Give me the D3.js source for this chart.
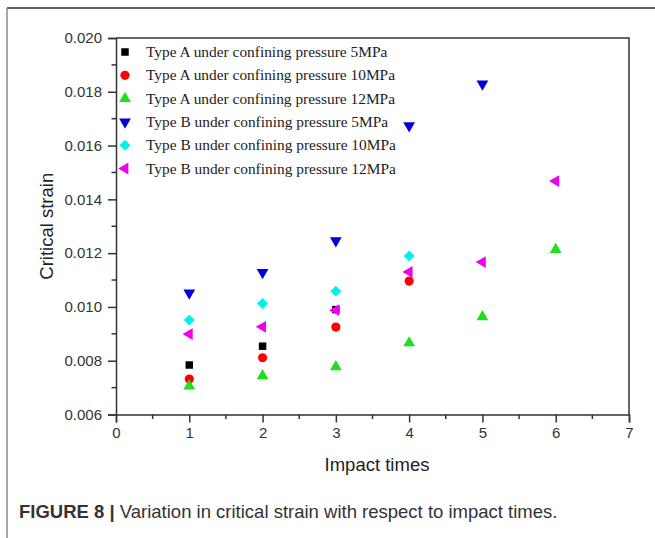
<!DOCTYPE html>
<html>
<head>
<meta charset="utf-8">
<script src="https://cdn.jsdelivr.net/npm/d3@7"></script>
<style>
  html, body { margin: 0; padding: 0; background: #fff; }
  svg { display: block; }
</style>
</head>
<body>
<svg id="chart" width="655" height="538"></svg>
<script>
// ---- data ----
const impactTimes = [1, 2, 3, 4, 5, 6];
const seriesNames = [
  "Type A under confining pressure 5MPa",
  "Type A under confining pressure 10MPa",
  "Type A under confining pressure 12MPa",
  "Type B under confining pressure 5MPa",
  "Type B under confining pressure 10MPa",
  "Type B under confining pressure 12MPa"
];
const typeA5MPa  = [0.00784, 0.00854, 0.00990, null, null, null];
const typeA10MPa = [0.00732, 0.00811, 0.00925, 0.01096, null, null];
const typeA12MPa = [0.00706, 0.00744, 0.00777, 0.00866, 0.00963, 0.01213];
const typeB5MPa  = [0.01052, 0.01128, 0.01246, 0.01674, 0.01829, null];
const typeB10MPa = [0.00951, 0.01013, 0.01058, 0.01189, null, null];
const typeB12MPa = [0.00899, 0.00926, 0.00988, 0.01130, 0.01167, 0.01468];
const xTicks = [0, 1, 2, 3, 4, 5, 6, 7];
const yTicks = [0.006, 0.008, 0.010, 0.012, 0.014, 0.016, 0.018, 0.020];
const xLabel = "Impact times";
const yLabel = "Critical strain";

const seriesValues = [typeA5MPa, typeA10MPa, typeA12MPa, typeB5MPa, typeB10MPa, typeB12MPa];
const colors = ["#000000", "#ff0000", "#1fe01f", "#0000d8", "#00f0f0", "#f000f0"];
// symbol type, size (area), rotation
const shapes = [
  {type: d3.symbolSquare, size: 56, rot: 0},
  {type: d3.symbolCircle, size: 66, rot: 0},
  {type: d3.symbolTriangle, size: 60, rot: 0},
  {type: d3.symbolTriangle, size: 60, rot: 180},
  {type: d3.symbolSquare, size: 60, rot: 45},
  {type: d3.symbolTriangle, size: 60, rot: -90}
];

const svg = d3.select("#chart");
const W = 655, H = 538;
const margin = {left: 116, top: 38, right: 629, bottom: 414.5};

// figure frame
svg.append("line").attr("x1", 7).attr("x2", W).attr("y1", 8).attr("y2", 8)
  .attr("stroke", "#2a2a2a").attr("stroke-width", 1.5);
svg.append("line").attr("x1", 7).attr("x2", 7).attr("y1", 8).attr("y2", H)
  .attr("stroke", "#8a8a8a").attr("stroke-width", 1.5);

const x = d3.scaleLinear().domain([0, 7]).range([margin.left, margin.right]);
const y = d3.scaleLinear().domain([0.006, 0.020]).range([margin.bottom, margin.top]);

const axisColor = "#333";
const tickFont = "'Liberation Sans', Arial, sans-serif";

// plot box (top and right)
svg.append("path")
  .attr("d", `M${x(0)},${y(0.020)}H${x(7)}V${y(0.006)}`)
  .attr("fill", "none").attr("stroke", axisColor).attr("stroke-width", 1.5);

// minor ticks
const xMinor = d3.range(0.5, 7, 1);
const yMinor = d3.range(0.007, 0.0200, 0.002);
svg.append("g").selectAll("line").data(xMinor).join("line")
  .attr("x1", d => x(d)).attr("x2", d => x(d))
  .attr("y1", y(0.006)).attr("y2", y(0.006) + 4.5)
  .attr("stroke", axisColor).attr("stroke-width", 1.5);
svg.append("g").selectAll("line").data(yMinor).join("line")
  .attr("x1", x(0) - 4.5).attr("x2", x(0))
  .attr("y1", d => y(d)).attr("y2", d => y(d))
  .attr("stroke", axisColor).attr("stroke-width", 1.5);

// axes
const xAxis = d3.axisBottom(x).tickValues(xTicks).tickFormat(d3.format("d")).tickSize(8).tickPadding(5);
const yAxis = d3.axisLeft(y).tickValues(yTicks).tickFormat(d3.format(".3f")).tickSize(8).tickPadding(6);

const gx = svg.append("g").attr("transform", `translate(0,${y(0.006)})`).call(xAxis);
const gy = svg.append("g").attr("transform", `translate(${x(0)},0)`).call(yAxis);
[gx, gy].forEach(g => {
  g.select(".domain").attr("stroke", axisColor).attr("stroke-width", 1.5);
  g.selectAll(".tick line").attr("stroke", axisColor).attr("stroke-width", 1.5);
  g.selectAll(".tick text").attr("fill", "#333").attr("font-size", 15).attr("font-family", tickFont);
});

// axis titles
svg.append("text").attr("x", 377).attr("y", 471)
  .attr("text-anchor", "middle").attr("font-family", tickFont).attr("font-size", 18.5)
  .attr("fill", "#222").text(xLabel);
svg.append("text").attr("transform", `translate(53,${(y(0.006) + y(0.020)) / 2}) rotate(-90)`)
  .attr("text-anchor", "middle").attr("font-family", tickFont).attr("font-size", 18.5)
  .attr("fill", "#222").text(yLabel);

// points
const sym = d3.symbol();
seriesValues.forEach((vals, i) => {
  const pts = impactTimes.map((t, j) => ({t, v: vals[j]})).filter(d => d.v != null);
  svg.append("g").selectAll("path").data(pts).join("path")
    .attr("d", sym.type(shapes[i].type).size(shapes[i].size)())
    .attr("transform", d => `translate(${x(d.t)},${y(d.v)}) rotate(${shapes[i].rot})`)
    .attr("fill", colors[i]);
});

// legend
const legend = svg.append("g");
seriesNames.forEach((name, i) => {
  const ly = 52 + i * 23.3;
  legend.append("path")
    .attr("d", sym.type(shapes[i].type).size(shapes[i].size)())
    .attr("transform", `translate(125,${ly}) rotate(${shapes[i].rot})`)
    .attr("fill", colors[i]);
  legend.append("text").attr("x", 146).attr("y", ly + 5)
    .attr("font-family", "'Liberation Serif', 'Times New Roman', serif")
    .attr("font-size", 15.4).attr("fill", "#222").text(name);
});

// caption
const cap = svg.append("text").attr("x", 19).attr("y", 518)
  .attr("font-family", tickFont).attr("font-size", 18.5).attr("fill", "#333");
cap.append("tspan").attr("font-weight", "bold").text("FIGURE 8 | ");
cap.append("tspan").text("Variation in critical strain with respect to impact times.");
</script>
</body>
</html>
